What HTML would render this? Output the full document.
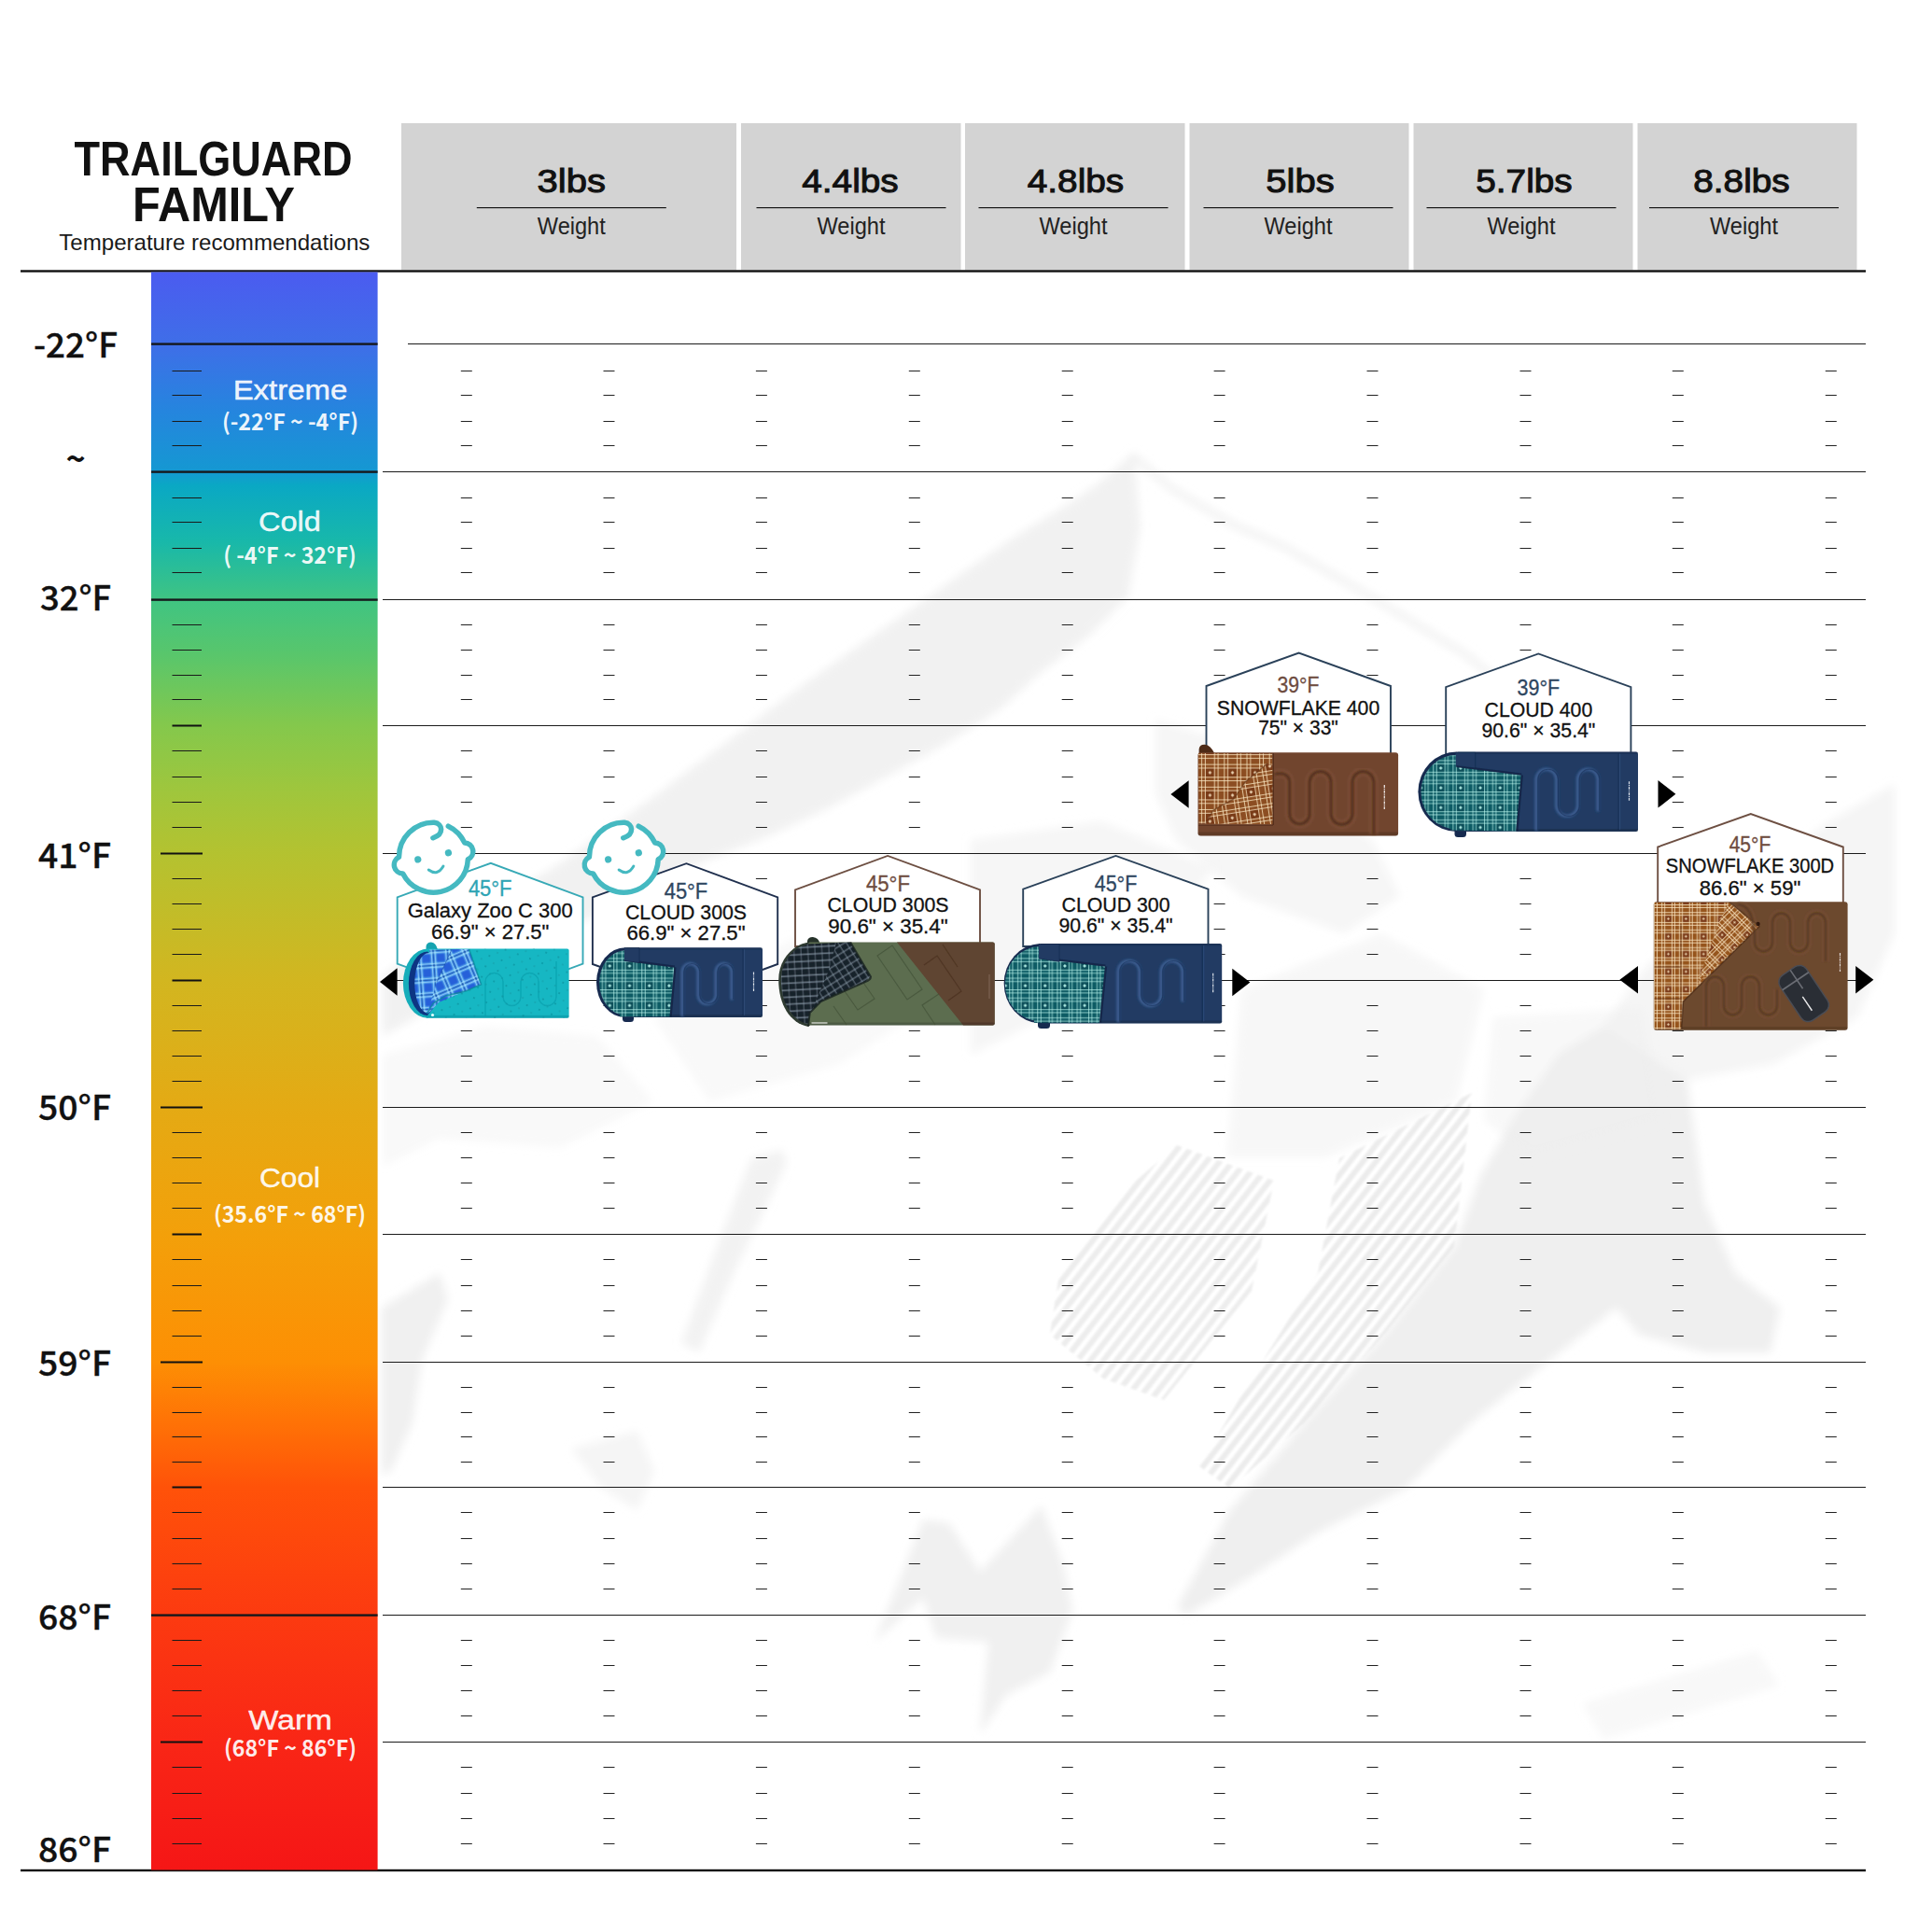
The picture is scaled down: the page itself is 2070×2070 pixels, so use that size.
<!DOCTYPE html>
<html lang="en"><head><meta charset="utf-8"><title>Trailguard Family temperature recommendations</title>
<style>
html,body{margin:0;padding:0;background:#fff;}
body{width:2070px;height:2070px;overflow:hidden;}
svg{display:block;}
text{font-family:"Liberation Sans",sans-serif;}
.cj{font-family:"Noto Sans CJK SC","Liberation Sans",sans-serif;}
</style></head><body>
<svg width="2070" height="2070" viewBox="0 0 2070 2070">
<defs>
<linearGradient id="bar" x1="0" y1="290" x2="0" y2="2004" gradientUnits="userSpaceOnUse">

<stop offset="0.0000" stop-color="#4b5bf0"/>
<stop offset="0.0455" stop-color="#3f6ee8"/>
<stop offset="0.0875" stop-color="#2585de"/>
<stop offset="0.1254" stop-color="#1598d2"/>
<stop offset="0.1342" stop-color="#0aa8c4"/>
<stop offset="0.1692" stop-color="#18b8aa"/>
<stop offset="0.2060" stop-color="#40c482"/>
<stop offset="0.2392" stop-color="#58c66c"/>
<stop offset="0.2841" stop-color="#84c84c"/>
<stop offset="0.3267" stop-color="#a0c63c"/>
<stop offset="0.3646" stop-color="#b4c230"/>
<stop offset="0.4434" stop-color="#d2b620"/>
<stop offset="0.5228" stop-color="#e4aa14"/>
<stop offset="0.6021" stop-color="#f3a00a"/>
<stop offset="0.6820" stop-color="#fd8f04"/>
<stop offset="0.7176" stop-color="#ff7406"/>
<stop offset="0.7608" stop-color="#ff5209"/>
<stop offset="0.8407" stop-color="#fc3a10"/>
<stop offset="0.9195" stop-color="#f92616"/>
<stop offset="1.0000" stop-color="#f51616"/>
</linearGradient>
<pattern id="pTeal" width="21.2" height="21.2" patternUnits="userSpaceOnUse"><rect width="21.2" height="21.2" fill="#0f5c65"/><rect x="12.8" y="12.8" width="9.00" height="9.00" fill="#0c505a"/><rect x="0.15" width="0.9" height="21.2" fill="#c4fff6" fill-opacity="0.72"/><rect y="0.15" width="21.2" height="0.9" fill="#c4fff6" fill-opacity="0.72"/><rect x="3.35" width="0.9" height="21.2" fill="#c4fff6" fill-opacity="0.72"/><rect y="3.35" width="21.2" height="0.9" fill="#c4fff6" fill-opacity="0.72"/><rect x="8.95" width="0.9" height="21.2" fill="#c4fff6" fill-opacity="0.72"/><rect y="8.95" width="21.2" height="0.9" fill="#c4fff6" fill-opacity="0.72"/><rect x="12.35" width="0.9" height="21.2" fill="#c4fff6" fill-opacity="0.72"/><rect y="12.35" width="21.2" height="0.9" fill="#c4fff6" fill-opacity="0.72"/><path d="M17.30 15.40l1.9 1.9l-1.9 1.9l-1.9 -1.9z" fill="#c4fff6" fill-opacity=".85"/></pattern>
<pattern id="pBrown" width="24.2" height="24.2" patternUnits="userSpaceOnUse" patternTransform="translate(1276.5 808)"><rect width="24.2" height="24.2" fill="#8c4d20"/><rect x="14.9" y="14.9" width="9.90" height="9.90" fill="#793a19"/><rect x="0.10" width="1.0" height="24.2" fill="#fbe8c4" fill-opacity="0.78"/><rect y="0.10" width="24.2" height="1.0" fill="#fbe8c4" fill-opacity="0.78"/><rect x="3.90" width="1.0" height="24.2" fill="#fbe8c4" fill-opacity="0.78"/><rect y="3.90" width="24.2" height="1.0" fill="#fbe8c4" fill-opacity="0.78"/><rect x="10.60" width="1.0" height="24.2" fill="#fbe8c4" fill-opacity="0.78"/><rect y="10.60" width="24.2" height="1.0" fill="#fbe8c4" fill-opacity="0.78"/><rect x="14.40" width="1.0" height="24.2" fill="#fbe8c4" fill-opacity="0.78"/><rect y="14.40" width="24.2" height="1.0" fill="#fbe8c4" fill-opacity="0.78"/><path d="M19.85 17.95l1.9 1.9l-1.9 1.9l-1.9 -1.9z" fill="#fbe8c4" fill-opacity=".85"/></pattern>
<pattern id="pBrownD" width="24.2" height="24.2" patternUnits="userSpaceOnUse" patternTransform="translate(1290 812) rotate(-9)"><rect width="24.2" height="24.2" fill="#8c4d20"/><rect x="14.9" y="14.9" width="9.90" height="9.90" fill="#793a19"/><rect x="0.10" width="1.0" height="24.2" fill="#fbe8c4" fill-opacity="0.78"/><rect y="0.10" width="24.2" height="1.0" fill="#fbe8c4" fill-opacity="0.78"/><rect x="3.90" width="1.0" height="24.2" fill="#fbe8c4" fill-opacity="0.78"/><rect y="3.90" width="24.2" height="1.0" fill="#fbe8c4" fill-opacity="0.78"/><rect x="10.60" width="1.0" height="24.2" fill="#fbe8c4" fill-opacity="0.78"/><rect y="10.60" width="24.2" height="1.0" fill="#fbe8c4" fill-opacity="0.78"/><rect x="14.40" width="1.0" height="24.2" fill="#fbe8c4" fill-opacity="0.78"/><rect y="14.40" width="24.2" height="1.0" fill="#fbe8c4" fill-opacity="0.78"/><path d="M19.85 17.95l1.9 1.9l-1.9 1.9l-1.9 -1.9z" fill="#fbe8c4" fill-opacity=".85"/></pattern>
<pattern id="pBrownS" width="24.2" height="24.2" patternUnits="userSpaceOnUse" patternTransform="translate(1772 969) scale(0.78)"><rect width="24.2" height="24.2" fill="#96551f"/><rect x="14.9" y="14.9" width="9.90" height="9.90" fill="#7d3d1a"/><rect x="-0.03" width="1.25" height="24.2" fill="#fbe8c4" fill-opacity="0.8"/><rect y="-0.03" width="24.2" height="1.25" fill="#fbe8c4" fill-opacity="0.8"/><rect x="3.78" width="1.25" height="24.2" fill="#fbe8c4" fill-opacity="0.8"/><rect y="3.78" width="24.2" height="1.25" fill="#fbe8c4" fill-opacity="0.8"/><rect x="10.47" width="1.25" height="24.2" fill="#fbe8c4" fill-opacity="0.8"/><rect y="10.47" width="24.2" height="1.25" fill="#fbe8c4" fill-opacity="0.8"/><rect x="14.28" width="1.25" height="24.2" fill="#fbe8c4" fill-opacity="0.8"/><rect y="14.28" width="24.2" height="1.25" fill="#fbe8c4" fill-opacity="0.8"/><path d="M19.85 17.95l1.9 1.9l-1.9 1.9l-1.9 -1.9z" fill="#fbe8c4" fill-opacity=".85"/></pattern>
<pattern id="pBrownSD" width="24.2" height="24.2" patternUnits="userSpaceOnUse" patternTransform="translate(1850 975) rotate(-45) scale(0.78)"><rect width="24.2" height="24.2" fill="#96551f"/><rect x="14.9" y="14.9" width="9.90" height="9.90" fill="#7d3d1a"/><rect x="-0.03" width="1.25" height="24.2" fill="#fbe8c4" fill-opacity="0.8"/><rect y="-0.03" width="24.2" height="1.25" fill="#fbe8c4" fill-opacity="0.8"/><rect x="3.78" width="1.25" height="24.2" fill="#fbe8c4" fill-opacity="0.8"/><rect y="3.78" width="24.2" height="1.25" fill="#fbe8c4" fill-opacity="0.8"/><rect x="10.47" width="1.25" height="24.2" fill="#fbe8c4" fill-opacity="0.8"/><rect y="10.47" width="24.2" height="1.25" fill="#fbe8c4" fill-opacity="0.8"/><rect x="14.28" width="1.25" height="24.2" fill="#fbe8c4" fill-opacity="0.8"/><rect y="14.28" width="24.2" height="1.25" fill="#fbe8c4" fill-opacity="0.8"/><path d="M19.85 17.95l1.9 1.9l-1.9 1.9l-1.9 -1.9z" fill="#fbe8c4" fill-opacity=".85"/></pattern>
<pattern id="pBlue" width="15.5" height="15.5" patternUnits="userSpaceOnUse" patternTransform="translate(448 1019.5) rotate(-4)">
<rect width="15.5" height="15.5" fill="#58afee"/><rect x="4.2" y="4.2" width="8" height="8" fill="#1b50d6"/><rect x="4.2" width="8" height="15.5" fill="#2a68dc" fill-opacity=".42"/><rect y="4.2" width="15.5" height="8" fill="#2a68dc" fill-opacity=".42"/>
<rect width="15.5" height="0.9" fill="#123f9e" fill-opacity=".7"/><rect width="0.9" height="15.5" fill="#123f9e" fill-opacity=".7"/>
<rect y="2.2" width="15.5" height=".8" fill="#b8e8ff" fill-opacity=".8"/><rect x="2.2" width=".8" height="15.5" fill="#b8e8ff" fill-opacity=".8"/><rect y="13.6" width="15.5" height=".8" fill="#b8e8ff" fill-opacity=".7"/><rect x="13.6" width=".8" height="15.5" fill="#b8e8ff" fill-opacity=".7"/>
</pattern>
<pattern id="pBlueR" width="15.5" height="15.5" patternUnits="userSpaceOnUse" patternTransform="translate(489 1040) rotate(-23)">
<rect width="15.5" height="15.5" fill="#58afee"/><rect x="4.2" y="4.2" width="8" height="8" fill="#1b50d6"/><rect x="4.2" width="8" height="15.5" fill="#2a68dc" fill-opacity=".42"/><rect y="4.2" width="15.5" height="8" fill="#2a68dc" fill-opacity=".42"/>
<rect width="15.5" height="0.9" fill="#123f9e" fill-opacity=".7"/><rect width="0.9" height="15.5" fill="#123f9e" fill-opacity=".7"/>
<rect y="2.2" width="15.5" height=".8" fill="#b8e8ff" fill-opacity=".8"/><rect x="2.2" width=".8" height="15.5" fill="#b8e8ff" fill-opacity=".8"/><rect y="13.6" width="15.5" height=".8" fill="#b8e8ff" fill-opacity=".7"/><rect x="13.6" width=".8" height="15.5" fill="#b8e8ff" fill-opacity=".7"/>
</pattern>
<pattern id="pDark" width="7.5" height="7.5" patternUnits="userSpaceOnUse" patternTransform="rotate(-3)">
<rect width="7.5" height="7.5" fill="#172029"/><rect y="0.4" width="7.5" height="1.7" fill="#93a5b3" fill-opacity=".62"/><rect x="0.4" width="1.5" height="7.5" fill="#8ea0ae" fill-opacity=".36"/>
</pattern>
<pattern id="pDarkR" width="7.5" height="7.5" patternUnits="userSpaceOnUse" patternTransform="rotate(-32)">
<rect width="7.5" height="7.5" fill="#172029"/><rect y="0.4" width="7.5" height="1.7" fill="#93a5b3" fill-opacity=".5"/><rect x="0.4" width="1.5" height="7.5" fill="#8ea0ae" fill-opacity=".45"/>
</pattern>
<pattern id="pDots" width="14" height="12" patternUnits="userSpaceOnUse" patternTransform="rotate(20)">
<circle cx="3" cy="3" r="0.9" fill="#0b8894" fill-opacity=".75"/><circle cx="10" cy="9" r="0.8" fill="#0b8894" fill-opacity=".65"/>
</pattern>
<filter id="soft" x="-5%" y="-5%" width="110%" height="110%"><feGaussianBlur stdDeviation="0.5"/></filter>
<filter id="soft2" x="-5%" y="-5%" width="110%" height="110%"><feGaussianBlur stdDeviation="1.2"/></filter>

<filter id="mblur" x="-2%" y="-2%" width="104%" height="104%"><feGaussianBlur stdDeviation="5"/></filter>
<filter id="mblur2" x="-2%" y="-2%" width="104%" height="104%"><feGaussianBlur stdDeviation="1.3"/></filter>
<pattern id="pHatch" width="11" height="11" patternUnits="userSpaceOnUse" patternTransform="rotate(-52)"><rect width="11" height="6" fill="#e9e9e9"/></pattern>
</defs>
<rect width="2070" height="2070" fill="#fff"/>
<g filter="url(#mblur)"><polygon points="1214.7,485.5 1176,518.7 1139,543.5 1085,576.6 1031,614 990,643 948.4,672 907,701 865.6,730 824,761 782.8,792 741,823 700,854 600,925 500,985 410,1045 410,1110 500,1060 600,1000 700,949 762,920 824,895.5 886,866.5 948.4,833 1014.7,796 1072.7,759 1114,721.6 1168,680 1209,639 1221.7,564" fill="#eeeeee" fill-opacity="0.8"/><polygon points="1238,771 1300,790 1380,840 1470,900 1500,960 1440,1000 1330,960 1260,900 1238,850" fill="#eeeeee" fill-opacity="0.5"/><path d="M1212 487L1256 524L1321 562L1374 585L1470 640L1570 701L1635 753L1700 790" fill="none" stroke="#eeeeee" stroke-opacity=".8" stroke-width="7"/><polygon points="1718,1100 1808,1157 1826,1288 1859,1364 1907,1401 1897,1449 1826,1449 1756,1430 1732,1401 1671,1449 1577,1524 1506,1595 1412,1642 1341,1689 1271,1731 1261,1722 1318,1618 1398,1524 1483,1430 1558,1336 1586,1260 1624,1194 1671,1128" fill="#eeeeee" fill-opacity="0.95"/><polygon points="1718,1100 1760,1040 1850,960 1960,880 2030,840 2030,1000 1990,1090 1900,1140 1808,1157" fill="#eeeeee" fill-opacity="0.6"/></g><g filter="url(#mblur2)"><polygon points="1435,1241 1577,1171 1558,1336 1483,1430 1398,1524 1318,1595 1285,1571 1341,1477 1412,1364" fill="url(#pHatch)" fill-opacity="0.85"/><polygon points="1261,1227 1365,1265 1341,1383 1247,1500 1182,1477 1125,1430 1135,1364 1201,1279" fill="url(#pHatch)" fill-opacity="0.8"/></g><g filter="url(#mblur)"><polygon points="989,1628 1017,1632 1050,1684 1116,1613 1140,1679 1149,1726 1125,1792 1078,1816 1050,1858 1059,1759 1003,1755 989,1712 937,1759 965,1689" fill="#eeeeee" fill-opacity="0.9"/><polygon points="409,1401 471,1364 480,1392 452,1458 442,1524 419,1576 409,1580" fill="#eeeeee" fill-opacity="0.9"/><polygon points="838,1232 843,1246 786,1364 749,1449 730,1439 772,1326 805,1241" fill="#eeeeee" fill-opacity="0.75"/><polygon points="612,1552 683,1533 701,1576 683,1618 645,1595" fill="#eeeeee" fill-opacity="0.6"/><polygon points="1695,1825 1883,1769 1906,1806 1718,1863" fill="#eeeeee" fill-opacity="0.4"/><polygon points="1040,900 1180,880 1300,930 1240,1010 1120,1090 1040,1130" fill="#eeeeee" fill-opacity="0.5"/><polygon points="1330,1060 1480,1000 1590,1060 1560,1180 1420,1240 1315,1240" fill="#eeeeee" fill-opacity="0.45"/><polygon points="1600,1090 1760,1080 1780,1200 1640,1240 1590,1200" fill="#eeeeee" fill-opacity="0.4"/><polygon points="410,1130 520,1100 640,1110 700,1180 600,1230 470,1220 410,1250" fill="#eeeeee" fill-opacity="0.35"/><polygon points="700,1090 860,1000 1000,960 1040,1050 900,1140 760,1180" fill="#eeeeee" fill-opacity="0.35"/></g>
<rect x="430" y="132" width="359" height="157.5" fill="#d3d3d3"/>
<rect x="794" y="132" width="235.5" height="157.5" fill="#d3d3d3"/>
<rect x="1034" y="132" width="235.5" height="157.5" fill="#d3d3d3"/>
<rect x="1274.5" y="132" width="235.0" height="157.5" fill="#d3d3d3"/>
<rect x="1514.5" y="132" width="235.0" height="157.5" fill="#d3d3d3"/>
<rect x="1754.5" y="132" width="235.0" height="157.5" fill="#d3d3d3"/>
<text x="612.3" y="205.5" font-size="35" text-anchor="middle" fill="#111" stroke="#111" stroke-width="1.0" textLength="73.4" lengthAdjust="spacingAndGlyphs">3lbs</text>
<rect x="510.79999999999995" y="222" width="203" height="1.15" fill="#111"/>
<text x="612.3" y="251" font-size="25.5" text-anchor="middle" fill="#222" textLength="73" lengthAdjust="spacingAndGlyphs">Weight</text>
<text x="911" y="205.5" font-size="35" text-anchor="middle" fill="#111" stroke="#111" stroke-width="1.0" textLength="103.4" lengthAdjust="spacingAndGlyphs">4.4lbs</text>
<rect x="810.5" y="222" width="203" height="1.15" fill="#111"/>
<text x="912" y="251" font-size="25.5" text-anchor="middle" fill="#222" textLength="73" lengthAdjust="spacingAndGlyphs">Weight</text>
<text x="1152.5" y="205.5" font-size="35" text-anchor="middle" fill="#111" stroke="#111" stroke-width="1.0" textLength="103.4" lengthAdjust="spacingAndGlyphs">4.8lbs</text>
<rect x="1048.5" y="222" width="203" height="1.15" fill="#111"/>
<text x="1150" y="251" font-size="25.5" text-anchor="middle" fill="#222" textLength="73" lengthAdjust="spacingAndGlyphs">Weight</text>
<text x="1393" y="205.5" font-size="35" text-anchor="middle" fill="#111" stroke="#111" stroke-width="1.0" textLength="73.4" lengthAdjust="spacingAndGlyphs">5lbs</text>
<rect x="1289.5" y="222" width="203" height="1.15" fill="#111"/>
<text x="1391" y="251" font-size="25.5" text-anchor="middle" fill="#222" textLength="73" lengthAdjust="spacingAndGlyphs">Weight</text>
<text x="1633" y="205.5" font-size="35" text-anchor="middle" fill="#111" stroke="#111" stroke-width="1.0" textLength="103.4" lengthAdjust="spacingAndGlyphs">5.7lbs</text>
<rect x="1528.5" y="222" width="203" height="1.15" fill="#111"/>
<text x="1630" y="251" font-size="25.5" text-anchor="middle" fill="#222" textLength="73" lengthAdjust="spacingAndGlyphs">Weight</text>
<text x="1866" y="205.5" font-size="35" text-anchor="middle" fill="#111" stroke="#111" stroke-width="1.0" textLength="103.4" lengthAdjust="spacingAndGlyphs">8.8lbs</text>
<rect x="1767.0" y="222" width="203" height="1.15" fill="#111"/>
<text x="1868.5" y="251" font-size="25.5" text-anchor="middle" fill="#222" textLength="73" lengthAdjust="spacingAndGlyphs">Weight</text>
<text x="228.5" y="188.4" font-size="51.5" font-weight="bold" text-anchor="middle" fill="#111" textLength="298" lengthAdjust="spacingAndGlyphs">TRAILGUARD</text>
<text x="229" y="237.1" font-size="51.5" font-weight="bold" text-anchor="middle" fill="#111" textLength="174" lengthAdjust="spacingAndGlyphs">FAMILY</text>
<text x="229.8" y="267.7" font-size="24" text-anchor="middle" fill="#1a1a1a" textLength="333" lengthAdjust="spacingAndGlyphs">Temperature recommendations</text>
<rect x="22" y="289.3" width="1977" height="2.4" fill="#111"/>
<rect x="22" y="2002.8" width="1977" height="2.4" fill="#111"/>
<rect x="162" y="291.5" width="242.60000000000002" height="1712.0" fill="url(#bar)"/>
<rect x="162" y="367.4" width="242.60000000000002" height="2.4" fill="#16181c"/>
<rect x="162" y="504.4" width="242.60000000000002" height="2.4" fill="#16181c"/>
<rect x="162" y="641.4" width="242.60000000000002" height="2.4" fill="#16181c"/>
<rect x="162" y="1729.4" width="242.60000000000002" height="2.4" fill="#16181c"/>
<path d="M184.5 397.5h31.5M184.5 423.5h31.5M184.5 451.5h31.5M184.5 477.5h31.5M184.5 533.5h31.5M184.5 559.5h31.5M184.5 587.5h31.5M184.5 613.5h31.5M184.5 669.5h31.5M184.5 696.5h31.5M184.5 723.5h31.5M184.5 749.5h31.5M184.5 804.5h31.5M184.5 832.5h31.5M184.5 859.5h31.5M184.5 886.5h31.5M184.5 941.5h31.5M184.5 968.5h31.5M184.5 995.5h31.5M184.5 1022.5h31.5M184.5 1077.5h31.5M184.5 1104.5h31.5M184.5 1131.5h31.5M184.5 1158.5h31.5M184.5 1213.5h31.5M184.5 1240.5h31.5M184.5 1267.5h31.5M184.5 1294.5h31.5M184.5 1349.5h31.5M184.5 1377.5h31.5M184.5 1404.5h31.5M184.5 1431.5h31.5M184.5 1486.5h31.5M184.5 1513.5h31.5M184.5 1539.5h31.5M184.5 1566.5h31.5M184.5 1620.5h31.5M184.5 1648.5h31.5M184.5 1675.5h31.5M184.5 1702.5h31.5M184.5 1757.5h31.5M184.5 1784.5h31.5M184.5 1811.5h31.5M184.5 1838.5h31.5M184.5 1893.5h31.5M184.5 1921.5h31.5M184.5 1948.5h31.5M184.5 1975.5h31.5" stroke="#1a1a1a" stroke-width="1.1" fill="none"/>
<path d="M184.5 777.5h31.5M184.5 1050.5h31.5M184.5 1322.5h31.5M184.5 1593.5h31.5" stroke="#111" stroke-width="2.2" fill="none"/>
<path d="M172 914.5h45M172 1186.5h45M172 1459.5h45M172 1866.5h45" stroke="#111" stroke-width="2.2" fill="none"/>
<text x="311" y="428" font-size="30" text-anchor="middle" fill="#fff" fill-opacity="0.93" stroke="#fff" stroke-opacity=".9" stroke-width="0.45" textLength="122.7" lengthAdjust="spacingAndGlyphs">Extreme</text>
<text class="cj" x="311" y="460.9" font-size="24.5" font-weight="700" text-anchor="middle" fill="#fff" fill-opacity="0.93" textLength="146" lengthAdjust="spacingAndGlyphs">(-22°F ~ -4°F)</text>
<text x="310.5" y="569.4" font-size="30" text-anchor="middle" fill="#fff" fill-opacity="0.93" stroke="#fff" stroke-opacity=".9" stroke-width="0.45" textLength="66.8" lengthAdjust="spacingAndGlyphs">Cold</text>
<text class="cj" x="310.5" y="604.4" font-size="24.5" font-weight="700" text-anchor="middle" fill="#fff" fill-opacity="0.93" textLength="142.6" lengthAdjust="spacingAndGlyphs">( -4°F ~ 32°F)</text>
<text x="310.5" y="1271.6" font-size="30" text-anchor="middle" fill="#fff" fill-opacity="0.93" stroke="#fff" stroke-opacity=".9" stroke-width="0.45" textLength="65" lengthAdjust="spacingAndGlyphs">Cool</text>
<text class="cj" x="310.5" y="1309.6" font-size="24.5" font-weight="700" text-anchor="middle" fill="#fff" fill-opacity="0.93" textLength="163" lengthAdjust="spacingAndGlyphs">(35.6°F ~ 68°F)</text>
<text x="311" y="1852.6" font-size="30" text-anchor="middle" fill="#fff" fill-opacity="0.93" stroke="#fff" stroke-opacity=".9" stroke-width="0.45" textLength="89.5" lengthAdjust="spacingAndGlyphs">Warm</text>
<text class="cj" x="311" y="1881.7" font-size="24.5" font-weight="700" text-anchor="middle" fill="#fff" fill-opacity="0.93" textLength="142" lengthAdjust="spacingAndGlyphs">(68°F ~ 86°F)</text>
<text class="cj" x="81" y="383.1" font-size="36" font-weight="500" text-anchor="middle" fill="#111" stroke="#111" stroke-width="0.35" textLength="90" lengthAdjust="spacingAndGlyphs">-22°F</text>
<text class="cj" x="81" y="654.4" font-size="36" font-weight="500" text-anchor="middle" fill="#111" stroke="#111" stroke-width="0.35" textLength="76.2" lengthAdjust="spacingAndGlyphs">32°F</text>
<text class="cj" x="80" y="929.5" font-size="36" font-weight="500" text-anchor="middle" fill="#111" stroke="#111" stroke-width="0.35" textLength="78" lengthAdjust="spacingAndGlyphs">41°F</text>
<text class="cj" x="80" y="1200.0" font-size="36" font-weight="500" text-anchor="middle" fill="#111" stroke="#111" stroke-width="0.35" textLength="78" lengthAdjust="spacingAndGlyphs">50°F</text>
<text class="cj" x="80" y="1474.2" font-size="36" font-weight="500" text-anchor="middle" fill="#111" stroke="#111" stroke-width="0.35" textLength="78" lengthAdjust="spacingAndGlyphs">59°F</text>
<text class="cj" x="80" y="1746.3" font-size="36" font-weight="500" text-anchor="middle" fill="#111" stroke="#111" stroke-width="0.35" textLength="78" lengthAdjust="spacingAndGlyphs">68°F</text>
<text class="cj" x="80" y="1995.2" font-size="36" font-weight="500" text-anchor="middle" fill="#111" stroke="#111" stroke-width="0.35" textLength="78" lengthAdjust="spacingAndGlyphs">86°F</text>
<text class="cj" x="81" y="504.6" font-size="36" font-weight="700" text-anchor="middle" fill="#111">~</text>
<path d="M437 368.5H1999M410 505.5H1999M410 642.5H1999M410 777.5H1999M410 914.5H1999M410 1050.5H1999M410 1186.5H1999M410 1322.5H1999M410 1459.5H1999M410 1593.5H1999M410 1730.5H1999M410 1866.5H1999" stroke="#1a1a1a" stroke-width="1.2" fill="none"/>
<path d="M493.8 397.5h12M646.5 397.5h12M809.9 397.5h12M973.8 397.5h12M1137.7 397.5h12M1300.6 397.5h12M1464.5 397.5h12M1628.5 397.5h12M1791.8 397.5h12M1955.8 397.5h12M493.8 423.5h12M646.5 423.5h12M809.9 423.5h12M973.8 423.5h12M1137.7 423.5h12M1300.6 423.5h12M1464.5 423.5h12M1628.5 423.5h12M1791.8 423.5h12M1955.8 423.5h12M493.8 451.5h12M646.5 451.5h12M809.9 451.5h12M973.8 451.5h12M1137.7 451.5h12M1300.6 451.5h12M1464.5 451.5h12M1628.5 451.5h12M1791.8 451.5h12M1955.8 451.5h12M493.8 477.5h12M646.5 477.5h12M809.9 477.5h12M973.8 477.5h12M1137.7 477.5h12M1300.6 477.5h12M1464.5 477.5h12M1628.5 477.5h12M1791.8 477.5h12M1955.8 477.5h12M493.8 533.5h12M646.5 533.5h12M809.9 533.5h12M973.8 533.5h12M1137.7 533.5h12M1300.6 533.5h12M1464.5 533.5h12M1628.5 533.5h12M1791.8 533.5h12M1955.8 533.5h12M493.8 559.5h12M646.5 559.5h12M809.9 559.5h12M973.8 559.5h12M1137.7 559.5h12M1300.6 559.5h12M1464.5 559.5h12M1628.5 559.5h12M1791.8 559.5h12M1955.8 559.5h12M493.8 587.5h12M646.5 587.5h12M809.9 587.5h12M973.8 587.5h12M1137.7 587.5h12M1300.6 587.5h12M1464.5 587.5h12M1628.5 587.5h12M1791.8 587.5h12M1955.8 587.5h12M493.8 613.5h12M646.5 613.5h12M809.9 613.5h12M973.8 613.5h12M1137.7 613.5h12M1300.6 613.5h12M1464.5 613.5h12M1628.5 613.5h12M1791.8 613.5h12M1955.8 613.5h12M493.8 669.5h12M646.5 669.5h12M809.9 669.5h12M973.8 669.5h12M1137.7 669.5h12M1300.6 669.5h12M1464.5 669.5h12M1628.5 669.5h12M1791.8 669.5h12M1955.8 669.5h12M493.8 696.5h12M646.5 696.5h12M809.9 696.5h12M973.8 696.5h12M1137.7 696.5h12M1300.6 696.5h12M1464.5 696.5h12M1628.5 696.5h12M1791.8 696.5h12M1955.8 696.5h12M493.8 723.5h12M646.5 723.5h12M809.9 723.5h12M973.8 723.5h12M1137.7 723.5h12M1300.6 723.5h12M1464.5 723.5h12M1628.5 723.5h12M1791.8 723.5h12M1955.8 723.5h12M493.8 749.5h12M646.5 749.5h12M809.9 749.5h12M973.8 749.5h12M1137.7 749.5h12M1300.6 749.5h12M1464.5 749.5h12M1628.5 749.5h12M1791.8 749.5h12M1955.8 749.5h12M493.8 804.5h12M646.5 804.5h12M809.9 804.5h12M973.8 804.5h12M1137.7 804.5h12M1300.6 804.5h12M1464.5 804.5h12M1628.5 804.5h12M1791.8 804.5h12M1955.8 804.5h12M493.8 832.5h12M646.5 832.5h12M809.9 832.5h12M973.8 832.5h12M1137.7 832.5h12M1300.6 832.5h12M1464.5 832.5h12M1628.5 832.5h12M1791.8 832.5h12M1955.8 832.5h12M493.8 859.5h12M646.5 859.5h12M809.9 859.5h12M973.8 859.5h12M1137.7 859.5h12M1300.6 859.5h12M1464.5 859.5h12M1628.5 859.5h12M1791.8 859.5h12M1955.8 859.5h12M493.8 886.5h12M646.5 886.5h12M809.9 886.5h12M973.8 886.5h12M1137.7 886.5h12M1300.6 886.5h12M1464.5 886.5h12M1628.5 886.5h12M1791.8 886.5h12M1955.8 886.5h12M493.8 941.5h12M646.5 941.5h12M809.9 941.5h12M973.8 941.5h12M1137.7 941.5h12M1300.6 941.5h12M1464.5 941.5h12M1628.5 941.5h12M1791.8 941.5h12M1955.8 941.5h12M493.8 968.5h12M646.5 968.5h12M809.9 968.5h12M973.8 968.5h12M1137.7 968.5h12M1300.6 968.5h12M1464.5 968.5h12M1628.5 968.5h12M1791.8 968.5h12M1955.8 968.5h12M493.8 995.5h12M646.5 995.5h12M809.9 995.5h12M973.8 995.5h12M1137.7 995.5h12M1300.6 995.5h12M1464.5 995.5h12M1628.5 995.5h12M1791.8 995.5h12M1955.8 995.5h12M493.8 1022.5h12M646.5 1022.5h12M809.9 1022.5h12M973.8 1022.5h12M1137.7 1022.5h12M1300.6 1022.5h12M1464.5 1022.5h12M1628.5 1022.5h12M1791.8 1022.5h12M1955.8 1022.5h12M493.8 1077.5h12M646.5 1077.5h12M809.9 1077.5h12M973.8 1077.5h12M1137.7 1077.5h12M1300.6 1077.5h12M1464.5 1077.5h12M1628.5 1077.5h12M1791.8 1077.5h12M1955.8 1077.5h12M493.8 1104.5h12M646.5 1104.5h12M809.9 1104.5h12M973.8 1104.5h12M1137.7 1104.5h12M1300.6 1104.5h12M1464.5 1104.5h12M1628.5 1104.5h12M1791.8 1104.5h12M1955.8 1104.5h12M493.8 1131.5h12M646.5 1131.5h12M809.9 1131.5h12M973.8 1131.5h12M1137.7 1131.5h12M1300.6 1131.5h12M1464.5 1131.5h12M1628.5 1131.5h12M1791.8 1131.5h12M1955.8 1131.5h12M493.8 1158.5h12M646.5 1158.5h12M809.9 1158.5h12M973.8 1158.5h12M1137.7 1158.5h12M1300.6 1158.5h12M1464.5 1158.5h12M1628.5 1158.5h12M1791.8 1158.5h12M1955.8 1158.5h12M493.8 1213.5h12M646.5 1213.5h12M809.9 1213.5h12M973.8 1213.5h12M1137.7 1213.5h12M1300.6 1213.5h12M1464.5 1213.5h12M1628.5 1213.5h12M1791.8 1213.5h12M1955.8 1213.5h12M493.8 1240.5h12M646.5 1240.5h12M809.9 1240.5h12M973.8 1240.5h12M1137.7 1240.5h12M1300.6 1240.5h12M1464.5 1240.5h12M1628.5 1240.5h12M1791.8 1240.5h12M1955.8 1240.5h12M493.8 1267.5h12M646.5 1267.5h12M809.9 1267.5h12M973.8 1267.5h12M1137.7 1267.5h12M1300.6 1267.5h12M1464.5 1267.5h12M1628.5 1267.5h12M1791.8 1267.5h12M1955.8 1267.5h12M493.8 1294.5h12M646.5 1294.5h12M809.9 1294.5h12M973.8 1294.5h12M1137.7 1294.5h12M1300.6 1294.5h12M1464.5 1294.5h12M1628.5 1294.5h12M1791.8 1294.5h12M1955.8 1294.5h12M493.8 1349.5h12M646.5 1349.5h12M809.9 1349.5h12M973.8 1349.5h12M1137.7 1349.5h12M1300.6 1349.5h12M1464.5 1349.5h12M1628.5 1349.5h12M1791.8 1349.5h12M1955.8 1349.5h12M493.8 1377.5h12M646.5 1377.5h12M809.9 1377.5h12M973.8 1377.5h12M1137.7 1377.5h12M1300.6 1377.5h12M1464.5 1377.5h12M1628.5 1377.5h12M1791.8 1377.5h12M1955.8 1377.5h12M493.8 1404.5h12M646.5 1404.5h12M809.9 1404.5h12M973.8 1404.5h12M1137.7 1404.5h12M1300.6 1404.5h12M1464.5 1404.5h12M1628.5 1404.5h12M1791.8 1404.5h12M1955.8 1404.5h12M493.8 1431.5h12M646.5 1431.5h12M809.9 1431.5h12M973.8 1431.5h12M1137.7 1431.5h12M1300.6 1431.5h12M1464.5 1431.5h12M1628.5 1431.5h12M1791.8 1431.5h12M1955.8 1431.5h12M493.8 1486.5h12M646.5 1486.5h12M809.9 1486.5h12M973.8 1486.5h12M1137.7 1486.5h12M1300.6 1486.5h12M1464.5 1486.5h12M1628.5 1486.5h12M1791.8 1486.5h12M1955.8 1486.5h12M493.8 1513.5h12M646.5 1513.5h12M809.9 1513.5h12M973.8 1513.5h12M1137.7 1513.5h12M1300.6 1513.5h12M1464.5 1513.5h12M1628.5 1513.5h12M1791.8 1513.5h12M1955.8 1513.5h12M493.8 1539.5h12M646.5 1539.5h12M809.9 1539.5h12M973.8 1539.5h12M1137.7 1539.5h12M1300.6 1539.5h12M1464.5 1539.5h12M1628.5 1539.5h12M1791.8 1539.5h12M1955.8 1539.5h12M493.8 1566.5h12M646.5 1566.5h12M809.9 1566.5h12M973.8 1566.5h12M1137.7 1566.5h12M1300.6 1566.5h12M1464.5 1566.5h12M1628.5 1566.5h12M1791.8 1566.5h12M1955.8 1566.5h12M493.8 1620.5h12M646.5 1620.5h12M809.9 1620.5h12M973.8 1620.5h12M1137.7 1620.5h12M1300.6 1620.5h12M1464.5 1620.5h12M1628.5 1620.5h12M1791.8 1620.5h12M1955.8 1620.5h12M493.8 1648.5h12M646.5 1648.5h12M809.9 1648.5h12M973.8 1648.5h12M1137.7 1648.5h12M1300.6 1648.5h12M1464.5 1648.5h12M1628.5 1648.5h12M1791.8 1648.5h12M1955.8 1648.5h12M493.8 1675.5h12M646.5 1675.5h12M809.9 1675.5h12M973.8 1675.5h12M1137.7 1675.5h12M1300.6 1675.5h12M1464.5 1675.5h12M1628.5 1675.5h12M1791.8 1675.5h12M1955.8 1675.5h12M493.8 1702.5h12M646.5 1702.5h12M809.9 1702.5h12M973.8 1702.5h12M1137.7 1702.5h12M1300.6 1702.5h12M1464.5 1702.5h12M1628.5 1702.5h12M1791.8 1702.5h12M1955.8 1702.5h12M493.8 1757.5h12M646.5 1757.5h12M809.9 1757.5h12M973.8 1757.5h12M1137.7 1757.5h12M1300.6 1757.5h12M1464.5 1757.5h12M1628.5 1757.5h12M1791.8 1757.5h12M1955.8 1757.5h12M493.8 1784.5h12M646.5 1784.5h12M809.9 1784.5h12M973.8 1784.5h12M1137.7 1784.5h12M1300.6 1784.5h12M1464.5 1784.5h12M1628.5 1784.5h12M1791.8 1784.5h12M1955.8 1784.5h12M493.8 1811.5h12M646.5 1811.5h12M809.9 1811.5h12M973.8 1811.5h12M1137.7 1811.5h12M1300.6 1811.5h12M1464.5 1811.5h12M1628.5 1811.5h12M1791.8 1811.5h12M1955.8 1811.5h12M493.8 1838.5h12M646.5 1838.5h12M809.9 1838.5h12M973.8 1838.5h12M1137.7 1838.5h12M1300.6 1838.5h12M1464.5 1838.5h12M1628.5 1838.5h12M1791.8 1838.5h12M1955.8 1838.5h12M493.8 1893.5h12M646.5 1893.5h12M809.9 1893.5h12M973.8 1893.5h12M1137.7 1893.5h12M1300.6 1893.5h12M1464.5 1893.5h12M1628.5 1893.5h12M1791.8 1893.5h12M1955.8 1893.5h12M493.8 1921.5h12M646.5 1921.5h12M809.9 1921.5h12M973.8 1921.5h12M1137.7 1921.5h12M1300.6 1921.5h12M1464.5 1921.5h12M1628.5 1921.5h12M1791.8 1921.5h12M1955.8 1921.5h12M493.8 1948.5h12M646.5 1948.5h12M809.9 1948.5h12M973.8 1948.5h12M1137.7 1948.5h12M1300.6 1948.5h12M1464.5 1948.5h12M1628.5 1948.5h12M1791.8 1948.5h12M1955.8 1948.5h12M493.8 1975.5h12M646.5 1975.5h12M809.9 1975.5h12M973.8 1975.5h12M1137.7 1975.5h12M1300.6 1975.5h12M1464.5 1975.5h12M1628.5 1975.5h12M1791.8 1975.5h12M1955.8 1975.5h12" stroke="#222" stroke-width="1.2" fill="none"/>
<path d="M407 1052L425.6 1037.25V1066.75Z" fill="#000"/>
<path d="M1339.4 1052.6L1320.3 1037.85V1067.35Z" fill="#000"/>
<path d="M1254.4 851L1273.6 836.25V865.75Z" fill="#000"/>
<path d="M1795.4 850.8L1776.5 836.05V865.55Z" fill="#000"/>
<path d="M1735.4 1049.7L1755 1034.95V1064.45Z" fill="#000"/>
<path d="M2007.4 1049.7L1988.2 1034.95V1064.45Z" fill="#000"/>
<path d="M425.7 961.3L525.8 924.8L624.5 961.3V1032.6L525.8 1069.1L425.7 1032.6Z" fill="#fff" stroke="#37a9b6" stroke-width="1.9" stroke-linejoin="miter"/>
<path d="M634.9 961.3L735.4 925.2L833.2 961.3V1033.0L735.4 1069.1L634.9 1033.0Z" fill="#fff" stroke="#20304e" stroke-width="1.9" stroke-linejoin="miter"/>
<path d="M852 1014V953.3L951.1 916.9L1050 953.3V1014Z" fill="#fff" stroke="#6d4f42" stroke-width="1.9" stroke-linejoin="miter"/>
<path d="M1096.2 1014V952.6L1195.5 916.9L1294.5 952.6V1014Z" fill="#fff" stroke="#2a4159" stroke-width="1.9" stroke-linejoin="miter"/>
<path d="M1292.5 809V735L1391.6 699.5L1490 735V809Z" fill="#fff" stroke="#2a4159" stroke-width="1.9" stroke-linejoin="miter"/>
<path d="M1549.2 809V736.1L1648.3 700.4L1747.4 736.1V809Z" fill="#fff" stroke="#2a4159" stroke-width="1.9" stroke-linejoin="miter"/>
<path d="M1776.2 969V907.5L1875.8 872L1974.8 907.5V969Z" fill="#fff" stroke="#6d4f42" stroke-width="1.9" stroke-linejoin="miter"/>
<text x="525.2" y="960.4" font-size="23.3" text-anchor="middle" fill="#2ea4b4" stroke="#2ea4b4" stroke-width="0.3" textLength="46.6" lengthAdjust="spacingAndGlyphs">45°F</text><text x="525.2" y="982.6" font-size="22.5" text-anchor="middle" fill="#111" stroke="#111" stroke-width="0.3" textLength="177" lengthAdjust="spacingAndGlyphs">Galaxy Zoo C 300</text><text x="525.2" y="1005.6" font-size="22.5" text-anchor="middle" fill="#111" stroke="#111" stroke-width="0.3" textLength="126.5" lengthAdjust="spacingAndGlyphs">66.9&quot; × 27.5&quot;</text>
<text x="735" y="962.5" font-size="23.3" text-anchor="middle" fill="#2e465f" stroke="#2e465f" stroke-width="0.3" textLength="46.6" lengthAdjust="spacingAndGlyphs">45°F</text><text x="735" y="985.3" font-size="22.5" text-anchor="middle" fill="#111" stroke="#111" stroke-width="0.3" textLength="130" lengthAdjust="spacingAndGlyphs">CLOUD 300S</text><text x="735" y="1007.2" font-size="22.5" text-anchor="middle" fill="#111" stroke="#111" stroke-width="0.3" textLength="127" lengthAdjust="spacingAndGlyphs">66.9&quot; × 27.5&quot;</text>
<text x="951.5" y="954.6" font-size="23.3" text-anchor="middle" fill="#6e4c3f" stroke="#6e4c3f" stroke-width="0.3" textLength="47" lengthAdjust="spacingAndGlyphs">45°F</text><text x="951.5" y="976.7" font-size="22.5" text-anchor="middle" fill="#111" stroke="#111" stroke-width="0.3" textLength="130" lengthAdjust="spacingAndGlyphs">CLOUD 300S</text><text x="951.5" y="999.8" font-size="22.5" text-anchor="middle" fill="#111" stroke="#111" stroke-width="0.3" textLength="128.4" lengthAdjust="spacingAndGlyphs">90.6&quot; × 35.4&quot;</text>
<text x="1195.5" y="954.6" font-size="23.3" text-anchor="middle" fill="#2e465f" stroke="#2e465f" stroke-width="0.3" textLength="45.5" lengthAdjust="spacingAndGlyphs">45°F</text><text x="1195.5" y="976.7" font-size="22.5" text-anchor="middle" fill="#111" stroke="#111" stroke-width="0.3" textLength="116" lengthAdjust="spacingAndGlyphs">CLOUD 300</text><text x="1195.5" y="999.2" font-size="22.5" text-anchor="middle" fill="#111" stroke="#111" stroke-width="0.3" textLength="122" lengthAdjust="spacingAndGlyphs">90.6&quot; × 35.4&quot;</text>
<text x="1391" y="742.4" font-size="23.3" text-anchor="middle" fill="#6e4c3f" stroke="#6e4c3f" stroke-width="0.3" textLength="45" lengthAdjust="spacingAndGlyphs">39°F</text><text x="1391" y="765.6" font-size="22.5" text-anchor="middle" fill="#111" stroke="#111" stroke-width="0.3" textLength="174.4" lengthAdjust="spacingAndGlyphs">SNOWFLAKE 400</text><text x="1391" y="787.2" font-size="22.5" text-anchor="middle" fill="#111" stroke="#111" stroke-width="0.3" textLength="85.6" lengthAdjust="spacingAndGlyphs">75&quot; × 33&quot;</text>
<text x="1648.4" y="744.5" font-size="23.3" text-anchor="middle" fill="#2e465f" stroke="#2e465f" stroke-width="0.3" textLength="45.6" lengthAdjust="spacingAndGlyphs">39°F</text><text x="1648.4" y="768" font-size="22.5" text-anchor="middle" fill="#111" stroke="#111" stroke-width="0.3" textLength="115.6" lengthAdjust="spacingAndGlyphs">CLOUD 400</text><text x="1648.4" y="789.6" font-size="22.5" text-anchor="middle" fill="#111" stroke="#111" stroke-width="0.3" textLength="122" lengthAdjust="spacingAndGlyphs">90.6&quot; × 35.4&quot;</text>
<text x="1875" y="913.2" font-size="23.3" text-anchor="middle" fill="#6e4c3f" stroke="#6e4c3f" stroke-width="0.3" textLength="44.6" lengthAdjust="spacingAndGlyphs">45°F</text><text x="1875" y="935.2" font-size="22.5" text-anchor="middle" fill="#111" stroke="#111" stroke-width="0.3" textLength="180.4" lengthAdjust="spacingAndGlyphs">SNOWFLAKE 300D</text><text x="1875" y="959.2" font-size="22.5" text-anchor="middle" fill="#111" stroke="#111" stroke-width="0.3" textLength="108.6" lengthAdjust="spacingAndGlyphs">86.6&quot; × 59&quot;</text>
<g filter="url(#soft)"><path d="M456.5 1018V1014Q457 1009.5 462 1009.5Q467.5 1010 469 1018Z" fill="#14a3b0"/><path d="M458.4 1016.4A26.5 37.19999999999999 0 0 0 458.4 1090.8Z" fill="#17adba"/><rect x="456.4" y="1016.4" width="153.20000000000005" height="74.39999999999998" rx="2" fill="#15b7c3"/><rect x="456.4" y="1016.4" width="153.20000000000005" height="74.39999999999998" rx="2" fill="url(#pDots)"/><rect x="456.4" y="1087.8" width="153.20000000000005" height="3" rx="1" fill="#0a7f8e" fill-opacity=".35"/><path d="M520 1089V1052a9.5 9.5 0 0 1 19 0V1068a9.5 9.5 0 0 0 19 0V1052a9.5 9.5 0 0 1 19 0V1068a9.5 9.5 0 0 0 19 0V1030" fill="none" stroke="#0c98a6" stroke-opacity=".5" stroke-width="1.5"/><path d="M458 1019.5A20 34 0 0 0 458 1088L466 1078L462 1024Z" fill="#0e3583"/><path d="M460 1021A15 32 0 0 0 459 1086L470 1074L503 1060L503 1017.2L460 1017.6Z" fill="url(#pBlue)"/><polygon points="484,1017.2 502.5,1017 515.5,1054.7 500,1061.4 477.7,1067.1 464.2,1074.9 458,1085 468,1052" fill="url(#pBlueR)"/><path d="M484 1017.2L468 1052" fill="none" stroke="#123f9e" stroke-opacity=".5" stroke-width="1"/><path d="M502.5 1017L515.5 1054.7L500 1061.4L477.7 1067.1L464.2 1074.9L457.5 1086" fill="none" stroke="#0a8796" stroke-opacity=".7" stroke-width="1.6"/><circle cx="463.5" cy="1087.5" r="1.6" fill="#e8ffff"/></g>
<g filter="url(#soft)"><rect x="667" y="1086" width="12" height="9" rx="3.5" fill="#172c50"/><path d="M670 1015.2A31.0 37.4 0 0 0 670 1090Z" fill="#172c50"/><rect x="669" y="1015.2" width="148" height="74.79999999999995" rx="2.2" fill="#203b64"/><rect x="669" y="1015.2" width="148" height="2.2" rx="1" fill="#000" fill-opacity=".13"/><rect x="669" y="1087" width="148" height="3" rx="1" fill="#000" fill-opacity=".16"/><path d="M670 1018.3A27.6 34.3 0 0 0 670 1087.6Z" fill="url(#pTeal)"/><polygon points="664.0,1019.0 668.5,1029.5 722.4,1036.4 717.6,1089.2 664.0,1089.2" fill="url(#pTeal)"/><path d="M668.5 1028.7L722.9 1035.6" stroke="#0b1a36" stroke-width="2.2" stroke-opacity=".55" fill="none"/><path d="M723.4 1036.4L718.6 1089.2" stroke="#0b1a36" stroke-width="2.2" stroke-opacity=".6" fill="none"/><polygon points="669.0,1015.5 685.0,1015.5 685.0,1031.5 669.0,1029.5" fill="#203b64"/><polyline points="669.0,1015.5 685.0,1015.5 685.0,1031.5 669.0,1029.5" fill="none" stroke="#0b1a36" stroke-opacity=".35" stroke-width="1"/><path d="M731 1088V1041a8.5 8.5 0 0 1 17 0V1066a9.5 9.5 0 0 0 19 0V1041a8.5 8.5 0 0 1 17 0V1070" fill="none" stroke="#4f74ad" stroke-opacity=".6" stroke-width="3.4" stroke-linecap="round" filter="url(#soft2)"/><path d="M731 1088V1041a8.5 8.5 0 0 1 17 0V1066a9.5 9.5 0 0 0 19 0V1041a8.5 8.5 0 0 1 17 0V1070" fill="none" stroke="#0d2146" stroke-opacity=".4" stroke-width="1.2" stroke-linecap="round" transform="translate(1.8 0)"/><path d="M796.0 1017.2V1088.0" stroke="#0b1f42" stroke-opacity=".35" stroke-width="1.3"/><path d="M797.5 1017.2V1088.0" stroke="#4b6aa0" stroke-opacity=".3" stroke-width="1.2"/><path d="M807.5 1041.6v21" stroke="#fff" stroke-opacity=".85" stroke-width="1.2" stroke-dasharray="3 0.8 1.2 0.8"/></g>
<g filter="url(#soft)"><path d="M865 1011V1008Q866 1003.8 871 1004Q877 1004.5 878.5 1011Z" fill="#27332b"/><path d="M868 1009.6C852 1010.5 834.2 1026 834.2 1050C834.2 1076 846 1096 866 1100L868 1098.5Z" fill="#2f3a30"/><rect x="866" y="1009.4" width="199.70000000000005" height="89.10000000000002" rx="2.2" fill="#5c6d50"/><path d="M961 1009.4H1063.7Q1065.7 1009.4 1065.7 1011.4V1096.5Q1065.7 1098.5 1063.7 1098.5H1032Z" fill="#5f4431"/><rect x="866" y="1095.5" width="199.70000000000005" height="3" rx="1" fill="#000" fill-opacity=".15"/><path d="M893 1078l14 20M905 1062l18 -12l14 20l-18 12zM940 1024l16 -11l32 47l-16 11zM1002 1098l-14-21l18-12" fill="none" stroke="#445338" stroke-opacity=".75" stroke-width="1.2"/><path d="M990 1034l14 -10l26 38l-14 10M1010 1012l16 24" fill="none" stroke="#48301f" stroke-opacity=".7" stroke-width="1.2"/><path d="M868 1011.8C853 1012.5 836.8 1028 836.8 1050C836.8 1074 848 1093 866 1097.5Z" fill="url(#pDark)"/><polygon points="864,1011.5 898,1010 880,1073 868,1085 866,1098" fill="url(#pDark)"/><polygon points="896,1010 911.2,1009.6 933,1046.4 927,1052 879.6,1073 870,1082 888,1040" fill="url(#pDarkR)"/><path d="M911.2 1009.6L933 1046.4Q933 1050 927 1052L879.6 1073L867.8 1085L865.9 1099.5" fill="none" stroke="#1a2420" stroke-opacity=".8" stroke-width="2"/><path d="M869.5 1096h17" stroke="#fff" stroke-opacity=".8" stroke-width="1.3"/><path d="M1060 1044v26" stroke="#d8c7b5" stroke-opacity=".3" stroke-width="1"/></g>
<g filter="url(#soft)"><rect x="1112" y="1092" width="13" height="10" rx="3.5" fill="#172c50"/><path d="M1114 1011A40.3 42.8 0 0 0 1114 1096.5Z" fill="#172c50"/><rect x="1113" y="1011" width="196.20000000000005" height="85.5" rx="2.2" fill="#203b64"/><rect x="1113" y="1011" width="196.20000000000005" height="2.2" rx="1" fill="#000" fill-opacity=".13"/><rect x="1113" y="1093.5" width="196.20000000000005" height="3" rx="1" fill="#000" fill-opacity=".16"/><path d="M1114 1014.1A36.9 39.7 0 0 0 1114 1094.1Z" fill="url(#pTeal)"/><polygon points="1108.0,1015.0 1114.0,1027.0 1184.0,1035.5 1178.0,1095.7 1108.0,1095.7" fill="url(#pTeal)"/><path d="M1114.0 1026.2L1184.5 1034.7" stroke="#0b1a36" stroke-width="2.2" stroke-opacity=".55" fill="none"/><path d="M1185.0 1035.5L1179.0 1095.7" stroke="#0b1a36" stroke-width="2.2" stroke-opacity=".6" fill="none"/><polygon points="1113.0,1011.5 1135.0,1011.5 1135.0,1030.5 1113.0,1027.0" fill="#203b64"/><polyline points="1113.0,1011.5 1135.0,1011.5 1135.0,1030.5 1113.0,1027.0" fill="none" stroke="#0b1a36" stroke-opacity=".35" stroke-width="1"/><path d="M1198 1094V1041a11.5 11.5 0 0 1 23 0V1066a11.5 11.5 0 0 0 23 0V1041a11.5 11.5 0 0 1 23 0V1072" fill="none" stroke="#4f74ad" stroke-opacity=".6" stroke-width="3.4" stroke-linecap="round" filter="url(#soft2)"/><path d="M1198 1094V1041a11.5 11.5 0 0 1 23 0V1066a11.5 11.5 0 0 0 23 0V1041a11.5 11.5 0 0 1 23 0V1072" fill="none" stroke="#0d2146" stroke-opacity=".4" stroke-width="1.2" stroke-linecap="round" transform="translate(1.8 0)"/><path d="M1288.2 1013.0V1094.5" stroke="#0b1f42" stroke-opacity=".35" stroke-width="1.3"/><path d="M1289.7 1013.0V1094.5" stroke="#4b6aa0" stroke-opacity=".3" stroke-width="1.2"/><path d="M1299.7 1042.8v21" stroke="#fff" stroke-opacity=".85" stroke-width="1.2" stroke-dasharray="3 0.8 1.2 0.8"/></g>
<g filter="url(#soft)"><path d="M1284.6 808V803Q1285 797.5 1291 797.8Q1297 798.5 1301.5 807.5Z" fill="#4d2a17"/><rect x="1283.5" y="806.2" width="214.6" height="89.3" rx="3" fill="#71452f"/><rect x="1283.5" y="891.5" width="214.6" height="4" rx="1.5" fill="#000" fill-opacity=".14"/><polygon points="1284,807 1363.3,807.6 1363.8,883 1284.5,882.3" fill="url(#pBrown)"/><polygon points="1358,818 1363.5,820 1363.8,883 1292,882.5 1300,868 1322,856 1334,838" fill="url(#pBrownD)"/><path d="M1358 818L1334 838L1322 856L1300 868L1292 882" fill="none" stroke="#5a2f14" stroke-opacity=".55" stroke-width="1.3"/><path d="M1364.2 807V884" stroke="#4a2713" stroke-opacity=".7" stroke-width="1.6"/><path d="M1284 884.5H1364" stroke="#4a2713" stroke-opacity=".5" stroke-width="1.2"/><path d="M1366 829.5C1376 827 1381.7 831 1381.7 838V872a10.7 10.7 0 0 0 21.5 0V838a11.4 11.4 0 0 1 22.9 0V872a11.4 11.4 0 0 0 22.9 0V838a11.4 11.4 0 0 1 22.9 0V894" fill="none" stroke="#8a5a40" stroke-opacity=".45" stroke-width="9" filter="url(#soft2)"/><path d="M1366 829.5C1376 827 1381.7 831 1381.7 838V872a10.7 10.7 0 0 0 21.5 0V838a11.4 11.4 0 0 1 22.9 0V872a11.4 11.4 0 0 0 22.9 0V838a11.4 11.4 0 0 1 22.9 0V894" fill="none" stroke="#43230f" stroke-opacity=".7" stroke-width="3" filter="url(#soft2)"/><path d="M1483.3 841v26" stroke="#fff" stroke-opacity=".85" stroke-width="1.3" stroke-dasharray="3 0.8 1.2 0.8"/></g>
<g filter="url(#soft)"><rect x="1558.5" y="887" width="12.5" height="10" rx="3.5" fill="#172c50"/><path d="M1560.8 805.6A41.4 42.7 0 0 0 1560.8 891Z" fill="#172c50"/><rect x="1559.8" y="805.6" width="195.20000000000005" height="85.39999999999998" rx="2.2" fill="#203b64"/><rect x="1559.8" y="805.6" width="195.20000000000005" height="2.2" rx="1" fill="#000" fill-opacity=".13"/><rect x="1559.8" y="888" width="195.20000000000005" height="3" rx="1" fill="#000" fill-opacity=".16"/><path d="M1560.8 808.7A38.0 39.6 0 0 0 1560.8 888.6Z" fill="url(#pTeal)"/><polygon points="1554.4,809.6 1559.8,821.7 1629.8,830.5 1624.4,890.4 1554.4,889.5" fill="url(#pTeal)"/><path d="M1559.8 820.9L1630.3 829.7" stroke="#0b1a36" stroke-width="2.2" stroke-opacity=".55" fill="none"/><path d="M1630.8 830.5L1625.4 890.4" stroke="#0b1a36" stroke-width="2.2" stroke-opacity=".6" fill="none"/><polygon points="1559.8,806.2 1580.7,806.2 1580.7,823.0 1559.8,820.4" fill="#203b64"/><polyline points="1559.8,806.2 1580.7,806.2 1580.7,823.0 1559.8,820.4" fill="none" stroke="#0b1a36" stroke-opacity=".35" stroke-width="1"/><path d="M1646 889V835a10.8 10.8 0 0 1 21.6 0V863a11.4 11.4 0 0 0 22.8 0V835a10.8 10.8 0 0 1 21.6 0V868" fill="none" stroke="#4f74ad" stroke-opacity=".6" stroke-width="3.4" stroke-linecap="round" filter="url(#soft2)"/><path d="M1646 889V835a10.8 10.8 0 0 1 21.6 0V863a11.4 11.4 0 0 0 22.8 0V835a10.8 10.8 0 0 1 21.6 0V868" fill="none" stroke="#0d2146" stroke-opacity=".4" stroke-width="1.2" stroke-linecap="round" transform="translate(1.8 0)"/><path d="M1734.0 807.6V889.0" stroke="#0b1f42" stroke-opacity=".35" stroke-width="1.3"/><path d="M1735.5 807.6V889.0" stroke="#4b6aa0" stroke-opacity=".3" stroke-width="1.2"/><path d="M1745.5 837.3v21" stroke="#fff" stroke-opacity=".85" stroke-width="1.2" stroke-dasharray="3 0.8 1.2 0.8"/></g>
<g filter="url(#soft)"><rect x="1771.8" y="966.2" width="207.8" height="137.6" rx="3" fill="#6c482e"/><rect x="1771.8" y="1100" width="207.8" height="3.8" rx="1.5" fill="#000" fill-opacity=".12"/><polygon points="1772.2,967 1853.2,967 1884.8,992.7 1803.4,1073.1 1801.5,1102.8 1772.2,1102.8" fill="url(#pBrownS)"/><polygon points="1843.5,984 1853.2,967 1884.8,992.7 1818.7,1053" fill="url(#pBrownSD)"/><path d="M1801 990V1100M1772.5 1036H1801M1772.5 1070H1801" stroke="#5a2f14" stroke-opacity=".45" stroke-width="1.3" fill="none"/><path d="M1853.2 967L1884.8 992.7L1803.4 1073.1L1801.5 1102.8" fill="none" stroke="#40210f" stroke-opacity=".6" stroke-width="1.6"/><circle cx="1883.5" cy="990" r="2.2" fill="#2a150a"/><path d="M1862 969C1876 970 1878 985 1880 1000V1010a9.5 9.5 0 0 0 19 0V988a9.5 9.5 0 0 1 19 0V1010a9.5 9.5 0 0 0 19 0V988a9.5 9.5 0 0 1 19 0V1030" fill="none" stroke="#8a5f44" stroke-opacity=".4" stroke-width="7" filter="url(#soft2)"/><path d="M1862 969C1876 970 1878 985 1880 1000V1010a9.5 9.5 0 0 0 19 0V988a9.5 9.5 0 0 1 19 0V1010a9.5 9.5 0 0 0 19 0V988a9.5 9.5 0 0 1 19 0V1030" fill="none" stroke="#43260f" stroke-opacity=".65" stroke-width="2.4" filter="url(#soft2)"/><path d="M1828 1100V1056a9.5 9.5 0 0 1 19 0V1078a9.5 9.5 0 0 0 19 0V1056a9.5 9.5 0 0 1 19 0V1078a9.5 9.5 0 0 0 19 0V1060" fill="none" stroke="#8a5f44" stroke-opacity=".4" stroke-width="7" filter="url(#soft2)"/><path d="M1828 1100V1056a9.5 9.5 0 0 1 19 0V1078a9.5 9.5 0 0 0 19 0V1056a9.5 9.5 0 0 1 19 0V1078a9.5 9.5 0 0 0 19 0V1060" fill="none" stroke="#43260f" stroke-opacity=".65" stroke-width="2.4" filter="url(#soft2)"/><path d="M1971.5 1021v20" stroke="#fff" stroke-opacity=".8" stroke-width="1.2" stroke-dasharray="3 0.8 1.2 0.8"/><g transform="translate(1932.7 1064.5) rotate(56)"><rect x="-29" y="-17" width="58" height="34" rx="9" fill="#2b2e35"/><rect x="-29" y="-17" width="58" height="34" rx="9" fill="none" stroke="#4a4d55" stroke-width="1.5"/><path d="M-16 -17V17M-29 -2H-5" stroke="#6a6d74" stroke-width="1.6" fill="none"/><path d="M2 3h18" stroke="#fff" stroke-width="1.4" stroke-opacity=".9"/></g></g>
<g transform="translate(464.3 918.3) rotate(-12.3) scale(0.982)"><path d="M23.1 -29.5A37.5 37.5 0 0 1 36.6 -8A9.5 9.5 0 0 1 36.3 10.5A37.5 37.5 0 0 1 -36.3 10.5A9.5 9.5 0 0 1 -36.6 -8A37.5 37.5 0 0 1 9 -36.6C18 -33.5 17 -21.5 4 -20.5" fill="#fff" stroke="#45b9c1" stroke-width="5.6" stroke-linecap="round" stroke-linejoin="round"/><circle cx="-17" cy="-1" r="3.7" fill="#45b9c1"/><circle cx="17" cy="-1" r="3.7" fill="#45b9c1"/><path d="M-8 12.5Q0 21.5 8.5 12" fill="none" stroke="#45b9c1" stroke-width="3.0" stroke-linecap="round"/></g>
<g transform="translate(668.2 918.3) rotate(-12.3) scale(0.982)"><path d="M23.1 -29.5A37.5 37.5 0 0 1 36.6 -8A9.5 9.5 0 0 1 36.3 10.5A37.5 37.5 0 0 1 -36.3 10.5A9.5 9.5 0 0 1 -36.6 -8A37.5 37.5 0 0 1 9 -36.6C18 -33.5 17 -21.5 4 -20.5" fill="#fff" stroke="#45b9c1" stroke-width="5.6" stroke-linecap="round" stroke-linejoin="round"/><circle cx="-17" cy="-1" r="3.7" fill="#45b9c1"/><circle cx="17" cy="-1" r="3.7" fill="#45b9c1"/><path d="M-8 12.5Q0 21.5 8.5 12" fill="none" stroke="#45b9c1" stroke-width="3.0" stroke-linecap="round"/></g>
</svg></body></html>
